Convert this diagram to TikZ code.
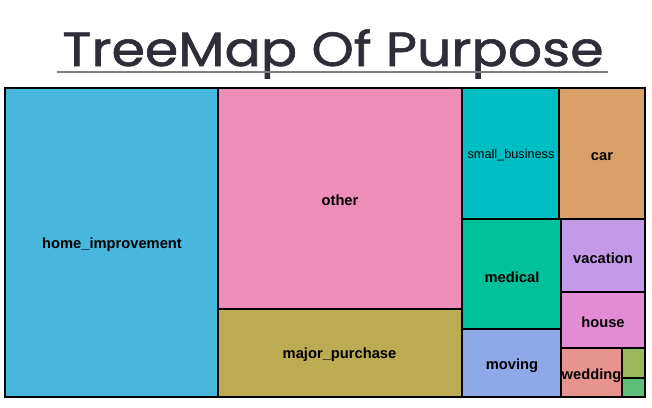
\documentclass[tikz,border=0pt]{standalone}
\usepackage{fontspec}
\setmainfont{Liberation Sans}
\newfontfamily\titlefont[FakeBold=1.2]{Poppins}
\definecolor{cHome}{HTML}{47B7DE}
\definecolor{cOther}{HTML}{EE8DB7}
\definecolor{cMajor}{HTML}{BCAB53}
\definecolor{cSmall}{HTML}{00BFC4}
\definecolor{cCar}{HTML}{D9A067}
\definecolor{cMedical}{HTML}{00C19A}
\definecolor{cMoving}{HTML}{8EA8E8}
\definecolor{cVacation}{HTML}{C49AE8}
\definecolor{cHouse}{HTML}{E38CD4}
\definecolor{cWedding}{HTML}{E8948E}
\definecolor{cGreenA}{HTML}{99B95A}
\definecolor{cGreenB}{HTML}{5DBF77}
\definecolor{cTitle}{HTML}{2E2E38}
\definecolor{cLine}{HTML}{7F7F7F}
\begin{document}
\begin{tikzpicture}[x=1pt,y=-1pt,
  cell/.style={draw=black,line width=2pt},
  lbl/.style={font=\fontsize{14.7}{16}\selectfont\bfseries,text=black,inner sep=0pt},
  lblsmall/.style={font=\fontsize{12.7}{14}\selectfont,text=black,inner sep=0pt}]
\useasboundingbox (0,0) rectangle (652,407);
% title
\node[anchor=base,inner sep=0pt,text=cTitle,xscale=1.12,font=\titlefont\fontsize{48}{50}\selectfont] (title) at (333,66) {TreeMap Of Purpose};
\coordinate (ulL) at (57,72);
\coordinate (ulR) at (608,72);
\draw[cLine,line width=2.2pt] (ulL) -- (ulR);
% cells
\draw[cell,fill=cHome] (5,87.5) rectangle (218,397);
\draw[cell,fill=cOther] (218,87.5) rectangle (462,309);
\draw[cell,fill=cMajor] (218,309) rectangle (462,397);
\draw[cell,fill=cSmall] (462,87.5) rectangle (559,219);
\draw[cell,fill=cCar] (559,87.5) rectangle (644.5,219);
\draw[cell,fill=cMedical] (462,219) rectangle (561,329);
\draw[cell,fill=cMoving] (462,329) rectangle (561,397);
\draw[cell,fill=cVacation] (561,219) rectangle (644.5,292);
\draw[cell,fill=cHouse] (561,292) rectangle (644.5,348);
\draw[cell,fill=cWedding] (561,348) rectangle (622,397);
\draw[cell,fill=cGreenA] (622,348) rectangle (644.5,378);
\draw[cell,fill=cGreenB] (622,378) rectangle (644.5,397);
\draw[cell] (5,87.5) rectangle (644.5,397);
% labels
\node[lbl] (home) at (112,245) {home\_improvement};
\node[lbl] (other) at (340,200) {other};
\node[lbl] (major) at (339.5,355) {major\_purchase};
\node[lblsmall] (small) at (511,155.5) {small\_business};
\node[lbl] (car) at (602,156.5) {car};
\node[lbl] (medical) at (512,277) {medical};
\node[lbl] (moving) at (512,366) {moving};
\node[lbl] (vacation) at (603,258) {vacation};
\node[lbl] (house) at (603,322) {house};
\node[lbl] (wedding) at (591.5,376) {wedding};
\end{tikzpicture}
\end{document}
